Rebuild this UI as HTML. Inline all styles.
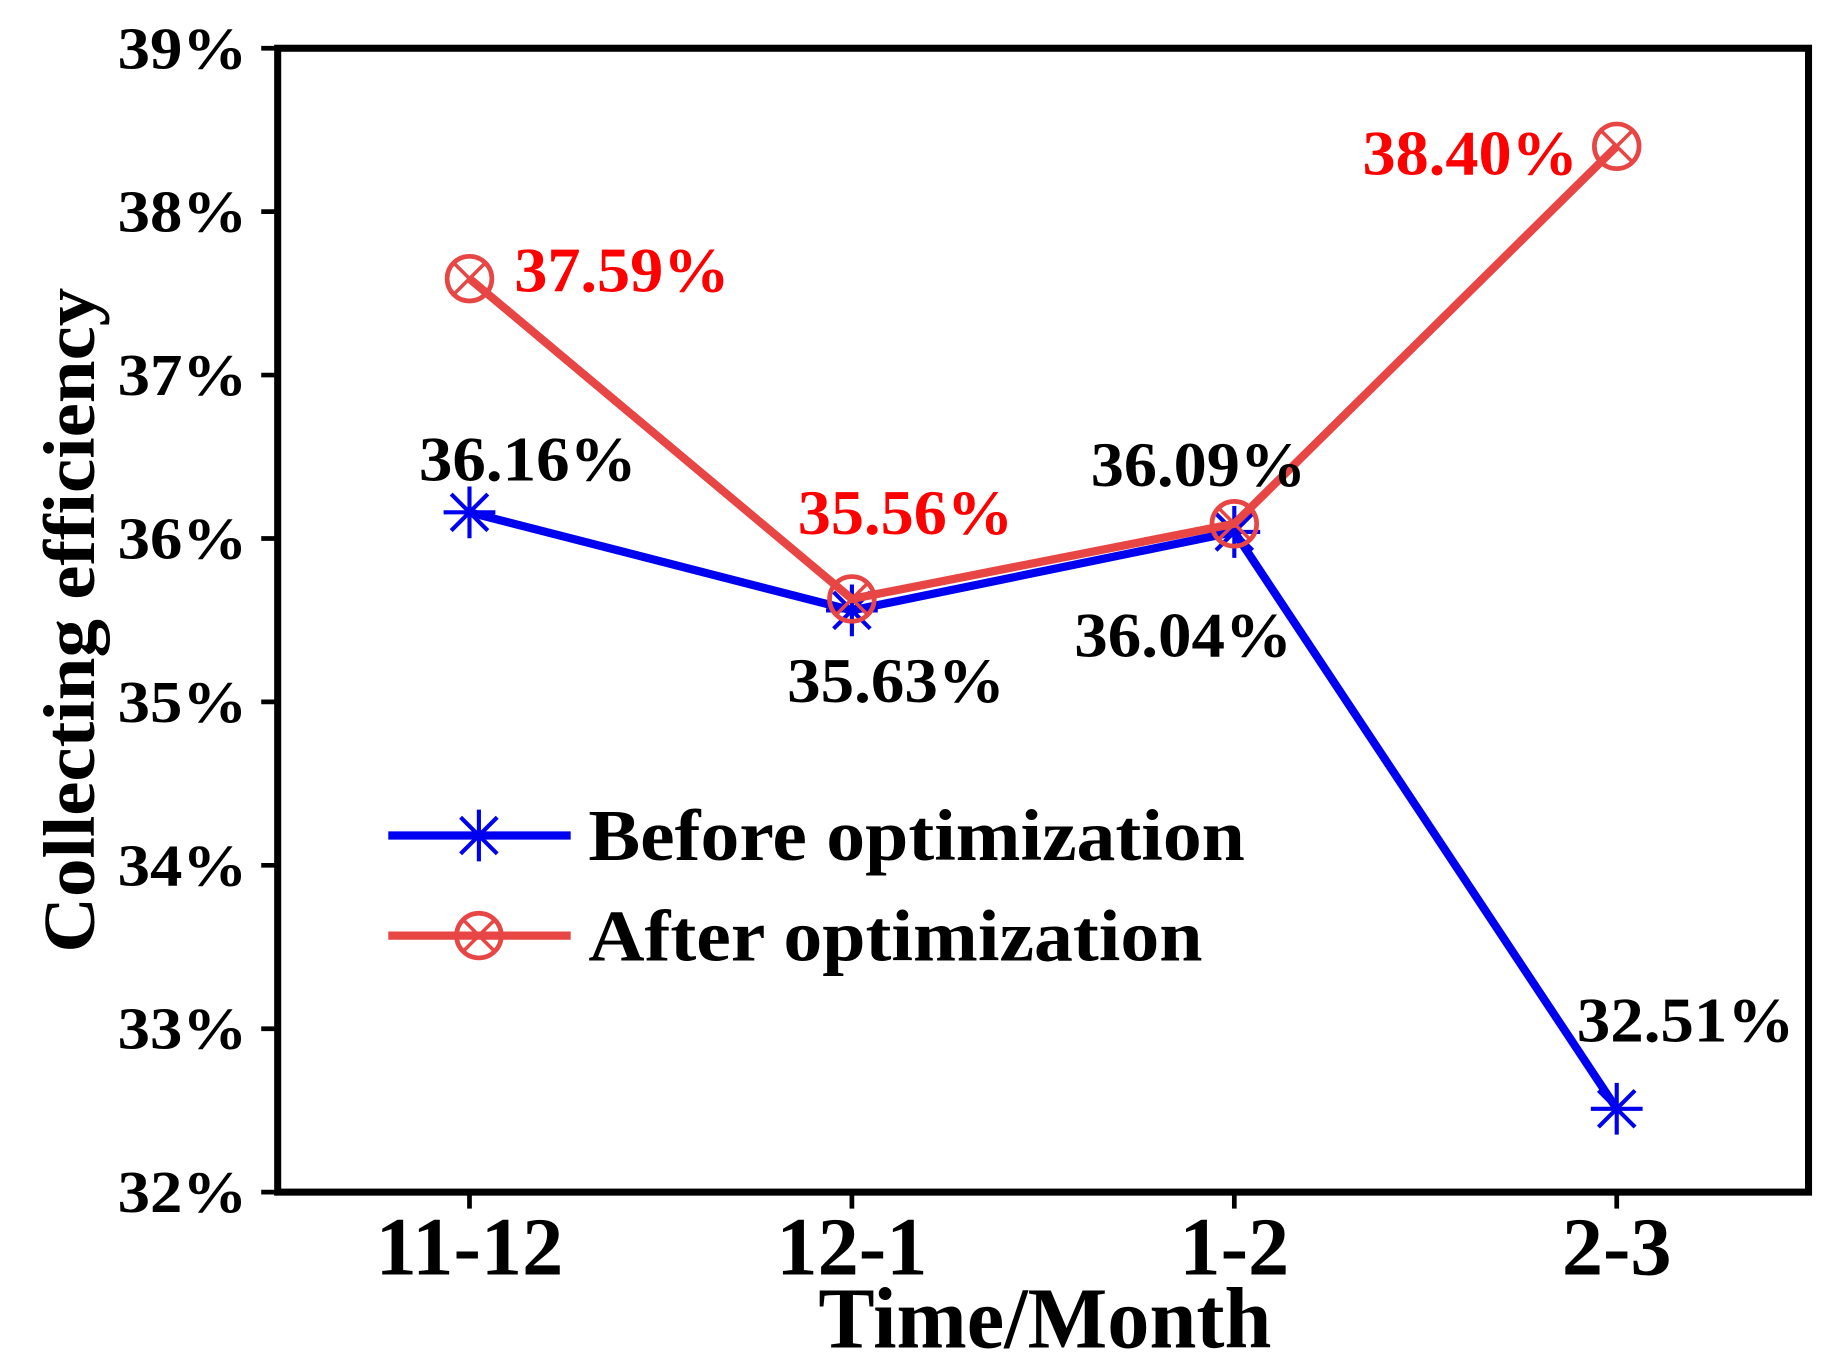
<!DOCTYPE html>
<html><head><meta charset="utf-8"><style>
html,body{margin:0;padding:0;background:#fff;}
svg{display:block;}
text{font-family:"Liberation Serif",serif;font-weight:bold;}
</style></head><body>
<svg id="chart" width="1845" height="1371" viewBox="0 0 1568 1165" preserveAspectRatio="none" xmlns="http://www.w3.org/2000/svg">
<g id="axes"></g>
<g id="series"></g>
<g id="labels"></g>
<g id="legend"></g>
</svg>
<script>
const categories = ["11-12","12-1","1-2","2-3"];
const beforeValues = [36.16,35.56,36.04,32.51];
const afterValues = [37.59,35.63,36.09,38.40];
const beforeLabels = ["36.16%","35.63%","36.04%","32.51%"];
const afterLabels = ["37.59%","35.56%","36.09%","38.40%"];
const yTicks = [32,33,34,35,36,37,38,39];

const NS="http://www.w3.org/2000/svg";
const L=236,R=1537,T=41,B=1013;
const yMin=32,yMax=39;
function x(i){return 399+i*325;}
function y(v){return B-(v-yMin)/(yMax-yMin)*(B-T);}
function mk(tag,attrs,parent,text){const e=document.createElementNS(NS,tag);for(const k in attrs)e.setAttribute(k,attrs[k]);if(text!==undefined)e.textContent=text;parent.appendChild(e);return e;}

const axes=document.getElementById('axes');
const frame=mk('rect',{x:L,y:T,width:R-L,height:B-T,fill:'none',stroke:'#000','stroke-width':6},axes);


yTicks.forEach(t=>{
  const tk=mk('line',{x1:L-14,x2:L,y1:y(t),y2:y(t),stroke:'#000','stroke-width':4},axes);
  
  
  const lb=mk('text',{x:210,y:y(t)+17,'text-anchor':'end','font-size':50,textLength:110,lengthAdjust:'spacingAndGlyphs'},axes,t+'%');
  
  
});
categories.forEach((c,i)=>{
  const tk=mk('line',{x1:x(i),x2:x(i),y1:B,y2:B+14,stroke:'#000','stroke-width':4},axes);
  
  
  const lb=mk('text',{x:x(i),y:1083,'text-anchor':'middle','font-size':70},axes,c);
  
  
});
const xt=mk('text',{x:888,y:1145,'text-anchor':'middle','font-size':74,textLength:385,lengthAdjust:'spacingAndGlyphs'},axes,'Time/Month');


const yt=mk('text',{x:0,y:0,'text-anchor':'middle','font-size':62,textLength:565,lengthAdjust:'spacingAndGlyphs',transform:'translate(80,527) rotate(-90)'},axes,'Collecting efficiency');



const BLUE='#0000f0',RED='#e84545';
function star(cx,cy,r,g,col){
  for(let a=0;a<4;a++){const an=a*Math.PI/4;
    mk('line',{x1:cx-r*Math.cos(an),y1:cy-r*Math.sin(an),x2:cx+r*Math.cos(an),y2:cy+r*Math.sin(an),stroke:col,'stroke-width':3.5},g);}
}
function ocross(cx,cy,r,g,col){
  mk('circle',{cx:cx,cy:cy,r:r,fill:'none',stroke:col,'stroke-width':4},g);
  const d=r*0.7;
  mk('line',{x1:cx-d,y1:cy-d,x2:cx+d,y2:cy+d,stroke:col,'stroke-width':3},g);
  mk('line',{x1:cx-d,y1:cy+d,x2:cx+d,y2:cy-d,stroke:col,'stroke-width':3},g);
}
const series=document.getElementById('series');
const bl=mk('polyline',{points:beforeValues.map((v,i)=>x(i)+','+y(v)).join(' '),fill:'none',stroke:BLUE,'stroke-width':7},series);


beforeValues.forEach((v,i)=>{const g=mk('g',{},series);
  
  
  star(x(i),y(v),22,g,BLUE);});
const al=mk('polyline',{points:afterValues.map((v,i)=>x(i)+','+y(v)).join(' '),fill:'none',stroke:RED,'stroke-width':7},series);


afterValues.forEach((v,i)=>{const g=mk('g',{},series);
  
  
  ocross(x(i),y(v),19,g,RED);});

const labels=document.getElementById('labels');
const bOff=[[356,-27],[669,+78],[913,+106],[1340,-57]];
const aOff=[[437,+11],[678,-55],[927,-32],[1158,+24]];
const aCol=['#ff0000','#ff0000','#000','#ff0000'];
beforeValues.forEach((v,i)=>{const t=mk('text',{x:bOff[i][0],y:y(v)+bOff[i][1],'font-size':54,fill:'#000',textLength:185,lengthAdjust:'spacingAndGlyphs'},labels,beforeLabels[i]);
  
  });
afterValues.forEach((v,i)=>{const t=mk('text',{x:aOff[i][0],y:y(v)+aOff[i][1],'font-size':54,fill:aCol[i],textLength:183,lengthAdjust:'spacingAndGlyphs'},labels,afterLabels[i]);
  
  });

const legend=document.getElementById('legend');
const e1=mk('g',{},legend);


mk('line',{x1:330,x2:485,y1:710,y2:710,stroke:BLUE,'stroke-width':7},e1);
star(407,710,22,e1,BLUE);
mk('text',{x:500,y:731,'font-size':62,textLength:558,lengthAdjust:'spacingAndGlyphs'},e1,'Before optimization');
const e2=mk('g',{},legend);


mk('line',{x1:330,x2:485,y1:795,y2:795,stroke:RED,'stroke-width':7},e2);
ocross(407,795,19,e2,RED);
mk('text',{x:500,y:816,'font-size':62,textLength:522,lengthAdjust:'spacingAndGlyphs'},e2,'After optimization');
</script>
</body></html>
